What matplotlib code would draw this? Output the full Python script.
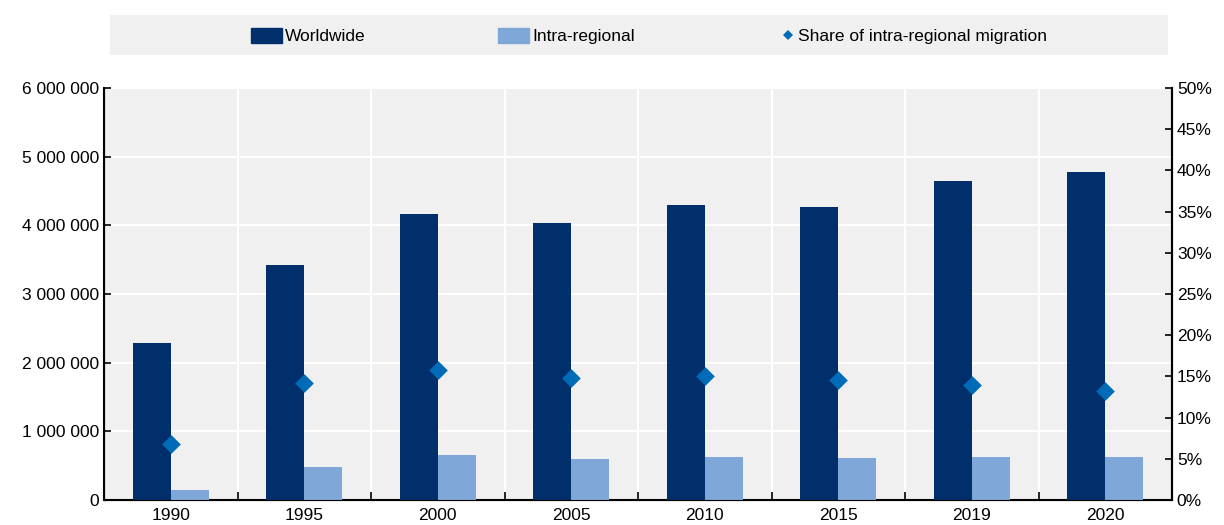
import numpy as np
import matplotlib.pyplot as plt
from matplotlib.patches import Rectangle
from matplotlib.ticker import FuncFormatter
from matplotlib.lines import Line2D

plt.rcParams['font.family'] = ['Liberation Sans Narrow', 'Liberation Sans', 'DejaVu Sans']

years = ['1990', '1995', '2000', '2005', '2010', '2015', '2019', '2020']
worldwide = [2285000, 3420000, 4170000, 4030000, 4300000, 4260000, 4640000, 4770000]
intra_regional = [150000, 485000, 655000, 590000, 630000, 615000, 625000, 630000]
share_intra = [6.8, 14.2, 15.8, 14.8, 15.0, 14.6, 14.0, 13.2]

dark_blue = '#002f6c'
light_blue = '#7fa8d9'
diamond_blue = '#006bb6'
bg = '#f0f0f0'
fs = 12.5

fig = plt.figure(figsize=(12.24, 5.25), dpi=100)
ax = fig.add_axes([104 / 1224, 25 / 525, 1068 / 1224, 412 / 525])
ax.set_facecolor(bg)

x = np.arange(len(years))
w = 0.285
ax.bar(x - w / 2, worldwide, w, color=dark_blue, zorder=3)
ax.bar(x + w / 2, intra_regional, w, color=light_blue, zorder=3)

ax.set_xlim(-0.5, len(years) - 0.5)
ax.set_ylim(0, 6000000)
ax.set_yticks(np.arange(0, 6000001, 1000000))
ax.yaxis.set_major_formatter(FuncFormatter(lambda v, p: '{:,.0f}'.format(v).replace(',', ' ')))
ax.set_xticks(x)
ax.set_xticklabels(years)
ax.set_xticks(np.arange(0.5, len(years) - 1, 1), minor=True)
ax.tick_params(axis='x', which='major', length=0, labelsize=fs, pad=6)
ax.tick_params(axis='x', which='minor', direction='in', length=6, width=1.2)
ax.tick_params(axis='y', direction='in', length=5, width=1.2, labelsize=fs)
ax.grid(axis='y', color='white', linewidth=1.5, zorder=0)
ax.grid(axis='x', which='minor', color='white', linewidth=1.5, zorder=0)
for s in ['left', 'bottom', 'right']:
    ax.spines[s].set_linewidth(1.5)
    ax.spines[s].set_color('black')
ax.spines['top'].set_visible(False)

ax2 = ax.twinx()
ax2.scatter(x, share_intra, marker='D', s=90, color=diamond_blue, zorder=5, linewidths=0)
ax2.set_ylim(0, 50)
ax2.set_yticks(np.arange(0, 51, 5))
ax2.yaxis.set_major_formatter(FuncFormatter(lambda v, p: '{:.0f}%'.format(v)))
ax2.tick_params(axis='y', direction='in', length=5, width=1.2, labelsize=fs)
ax2.spines['top'].set_visible(False)
ax2.spines['right'].set_linewidth(1.5)

# legend band
fig.patches.append(Rectangle((110 / 1224, 1 - 55 / 525), 1058 / 1224, 40 / 525,
                             transform=fig.transFigure, facecolor=bg, edgecolor='none', zorder=0))

legend_y = 1 - 36 / 525
em = fs * 100 / 72
common = dict(loc='center left', frameon=False, fontsize=fs, borderpad=0,
              borderaxespad=0, handletextpad=3 / em)
fig.legend([Rectangle((0, 0), 1, 1, color=dark_blue)], ['Worldwide'],
           bbox_to_anchor=(251 / 1224, legend_y), handlelength=31 / em,
           handleheight=16 / em, **common)
fig.legend([Rectangle((0, 0), 1, 1, color=light_blue)], ['Intra-regional'],
           bbox_to_anchor=(498 / 1224, legend_y), handlelength=31 / em,
           handleheight=16 / em, **common)
fig.legend([Line2D([], [], marker='D', color=diamond_blue, linestyle='none',
                   markersize=5.5, markeredgewidth=0)],
           ['Share of intra-regional migration'],
           bbox_to_anchor=(781 / 1224, legend_y), handlelength=14 / em, **common)

fig.savefig('out.png', dpi=100)
